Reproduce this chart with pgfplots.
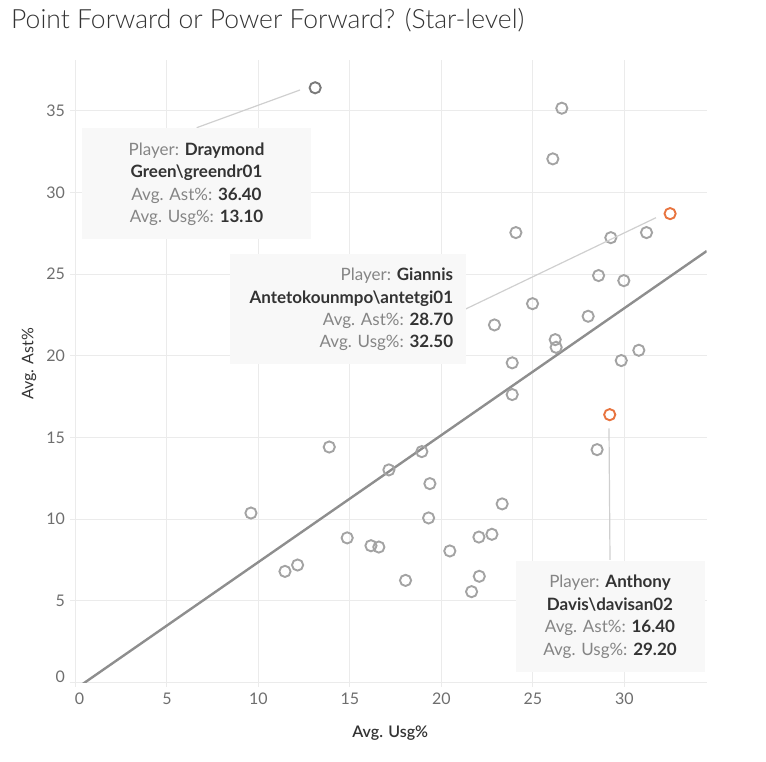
\documentclass[border=0pt]{standalone}
\usepackage{pgfplots}
\pgfplotsset{compat=1.18}
\usepackage{fontspec}
\setmainfont{Lato}
\newfontfamily\titlefont{Lato Light}
\newfontfamily\semifont{Lato Semibold}

\definecolor{gridgrey}{HTML}{EBEBEB}
\definecolor{tickgrey}{HTML}{6E6E6E}
\definecolor{darktext}{HTML}{333333}
\definecolor{labgrey}{HTML}{858585}
\definecolor{markgrey}{HTML}{A3A3A3}
\definecolor{selgrey}{HTML}{7A7A7A}
\definecolor{trendgrey}{HTML}{8E8E8E}
\definecolor{hiorange}{HTML}{E8743F}
\definecolor{leader}{HTML}{CFCFCF}
\definecolor{tipbg}{HTML}{F8F8F8}

\newcommand{\tip}[2]{{\color{labgrey}#1}{\color{darktext}\bfseries #2}}
\newcommand{\tipb}[1]{{\color{darktext}\bfseries #1}}

\begin{document}
\begin{tikzpicture}
\path[use as bounding box] (0pt,0pt) rectangle (766pt,762pt);

\begin{axis}[
    at={(70pt,79.3pt)}, anchor=south west,
    scale only axis, width=636.7pt, height=622.7pt,
    xmin=-0.3, xmax=34.5, ymin=0, ymax=38.1,
    xtick={0,5,...,30}, ytick={0,5,...,35},
    xticklabels={\hspace{8pt}0,5,10,15,20,25,30},
    yticklabels={\raisebox{11pt}{0},5,10,15,20,25,30,35},
    /pgf/number format/assume math mode=true,
    tick pos=left, tick align=outside,
    major tick length=4pt,
    xtick style={color=gridgrey, line width=1pt},
    ytick style={draw=none},
    axis line style={draw=none},
    grid=major,
    major grid style={color=gridgrey, line width=1pt},
    ticklabel style={font=\fontsize{16}{19}\selectfont, color=tickgrey},
    xticklabel style={anchor=north, yshift=-3pt},
    yticklabel style={anchor=east, xshift=2.5pt},
    xlabel={Avg. Usg\%}, ylabel={Avg. Ast\%},
    xlabel style={font=\semifont\fontsize{16}{18}\selectfont, color=darktext,
      at={(axis description cs:0.503,0)}, anchor=center, yshift=-50.3pt},
    ylabel style={font=\fontsize{16}{18}\selectfont, color=darktext,
      at={([xshift=-41pt]axis description cs:0,0.512)}, anchor=center},
    clip=true,
]
\draw[gridgrey, line width=1pt] (rel axis cs:0,0) -- (rel axis cs:1,0);

\addplot[only marks, mark=o, mark size=5.6pt, color=markgrey, line width=1.9pt]
coordinates {
(26.58,35.15) (26.09,32.05) (24.07,27.54) (29.26,27.23) (31.21,27.54)
(28.59,24.91) (29.97,24.60) (24.98,23.19) (22.90,21.89) (28.02,22.42)
(26.22,20.99) (26.27,20.52) (30.79,20.34) (29.83,19.71) (23.87,19.57)
(23.87,17.63) (28.51,14.26) (18.93,14.14) (19.37,12.18) (23.32,10.94)
(19.30,10.08) (22.05,8.91) (22.76,9.08) (20.46,8.06) (18.04,6.26)
(22.07,6.51) (21.65,5.57) (13.87,14.42) (17.13,13.02) (9.59,10.38)
(14.85,8.86) (16.15,8.38) (16.58,8.30) (11.45,6.81) (12.14,7.20)
};
% selected mark (Draymond Green)
\addplot[only marks, mark=o, mark size=5.6pt, color=selgrey, line width=1.9pt]
coordinates {(13.1,36.4)};
% highlighted marks
\addplot[only marks, mark=o, mark size=5.6pt, color=hiorange, line width=1.9pt]
coordinates {(32.5,28.7) (29.2,16.4)};
% trend line
\addplot[color=trendgrey, line width=2.4pt] coordinates {(-0.3,-0.617) (34.5,26.41)};
\end{axis}

% title
\node[anchor=west, color=darktext, font=\titlefont\fontsize{26.5}{30}\selectfont, inner sep=0pt]
  at (11pt,742pt) {Point Forward or Power Forward? (Star-level)};

% tooltips
\draw[leader, line width=1.2pt] (196.7pt,634.3pt) -- (300pt,672pt);
\fill[tipbg] (82.3pt,522.7pt) rectangle (310.7pt,633.7pt);
\node[align=center, font=\fontsize{17}{22.4}\selectfont, inner sep=0pt]
  at (196.5pt,577.7pt) {\tip{Player: }{Draymond}\\\tipb{Green\textbackslash greendr01}\\\tip{Avg. Ast\%: }{36.40}\\\tip{Avg. Usg\%: }{13.10}};

\draw[leader, line width=1.2pt] (465.7pt,453pt) -- (656pt,544.3pt);
\fill[tipbg] (230pt,397.7pt) rectangle (465.7pt,508pt);
\node[anchor=east, align=right, font=\fontsize{17}{22.4}\selectfont, inner sep=0pt]
  at (453.3pt,452.4pt) {\tip{Player: }{Giannis}\\\tipb{Antetokounmpo\textbackslash antetgi01}\\\tip{Avg. Ast\%: }{28.70}\\\tip{Avg. Usg\%: }{32.50}};

\draw[leader, line width=1.2pt] (609pt,333.7pt) -- (610pt,202pt);
\fill[tipbg] (516.3pt,90.3pt) rectangle (705pt,201pt);
\node[align=center, font=\fontsize{17}{22.4}\selectfont, inner sep=0pt]
  at (610pt,145.3pt) {\tip{Player: }{Anthony}\\\tipb{Davis\textbackslash davisan02}\\\tip{Avg. Ast\%: }{16.40}\\\tip{Avg. Usg\%: }{29.20}};
\end{tikzpicture}
\end{document}
